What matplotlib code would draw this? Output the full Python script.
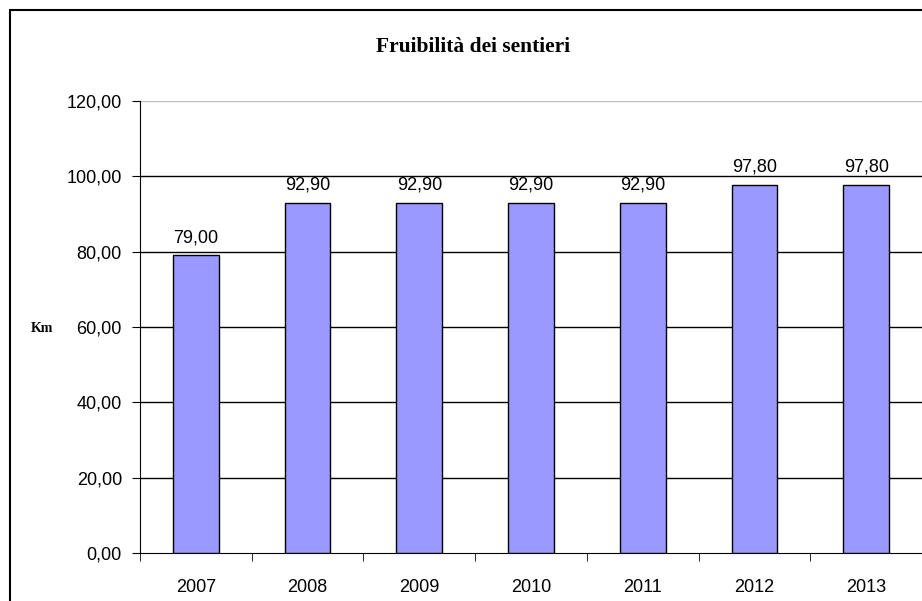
import matplotlib
matplotlib.use("Agg")
import matplotlib.pyplot as plt
from matplotlib.patches import Rectangle
from matplotlib.ticker import FuncFormatter

# data
years = ["2007", "2008", "2009", "2010", "2011", "2012", "2013"]
km = [79.00, 92.90, 92.90, 92.90, 92.90, 97.80, 97.80]
yticks = [0, 20, 40, 60, 80, 100, 120]


def it_fmt(v):
    return f"{v:.2f}".replace(".", ",")


fig = plt.figure(figsize=(9.22, 6.01), dpi=100)
W, H = 922, 601

# outer chart frame (runs off right/bottom edge like the original)
fig.patches.append(Rectangle((10 / W, -0.1), 1.2, 1 - 10 / H + 0.1,
                             transform=fig.transFigure, fill=False,
                             edgecolor="black", linewidth=1.5))

ax = fig.add_axes([140 / W, (H - 553) / H, (W - 140) / W, (553 - 101) / H])

x = list(range(len(years)))
ax.bar(x, km, width=0.41, color="#9999ff", edgecolor="black", linewidth=1, zorder=3)

ax.set_xlim(-0.5, len(years) - 0.5)
ax.set_ylim(0, 120)
ax.set_yticks(yticks)
ax.yaxis.set_major_formatter(FuncFormatter(lambda v, p: it_fmt(v)))
for t in yticks[1:]:
    ax.axhline(t, color="#bfbfbf" if t == 120 else "black", linewidth=1, zorder=1)

ax.set_xticks(x)
ax.set_xticklabels(years)
ax.set_xticks([i - 0.5 for i in range(len(years) + 1)], minor=True)
ax.tick_params(axis="x", which="major", length=0, pad=19)
ax.tick_params(axis="x", which="minor", length=6, direction="out")
ax.tick_params(axis="y", length=6, direction="out", pad=7)
for lab in ax.get_xticklabels() + ax.get_yticklabels():
    lab.set_fontfamily("Liberation Sans")
    lab.set_fontsize(13)

for s in ["top", "right"]:
    ax.spines[s].set_visible(False)

for xi, v in zip(x, km):
    ax.text(xi, v + 2.5, it_fmt(v), ha="center", va="bottom",
            fontsize=13, family="Liberation Sans", zorder=4)

fig.text(473 / W, 1 - 47 / H, "Fruibilità dei sentieri", ha="center", va="center",
         fontsize=15.5, fontweight="bold", family="Liberation Serif")
fig.text(42 / W, 1 - 328 / H, "Km", ha="center", va="center",
         fontsize=10, fontweight="bold", family="Liberation Serif")

fig.savefig("out.png", dpi=100)
